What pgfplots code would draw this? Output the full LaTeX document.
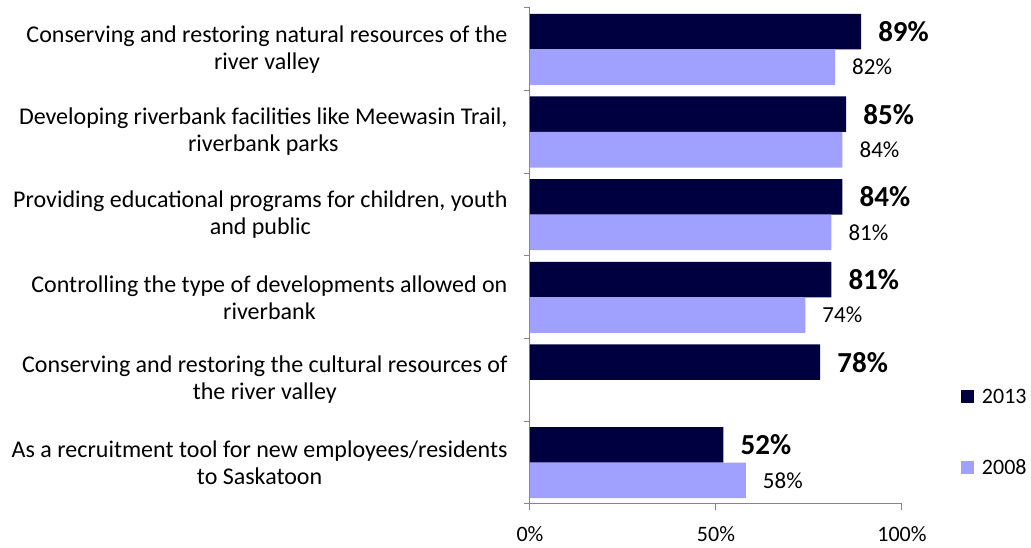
\documentclass[border=0pt]{standalone}
\usepackage{fontspec}
\setmainfont{Carlito}
\usepackage{pgfplots}
\pgfplotsset{compat=1.18}
\definecolor{navy}{RGB}{0,0,64}
\definecolor{lav}{RGB}{160,160,255}
\definecolor{axgray}{RGB}{134,134,134}
\begin{document}
\begin{tikzpicture}
\begin{axis}[
  scale only axis, width=372pt, height=496pt,
  xmin=0, xmax=100, ymin=-0.5, ymax=5.5,
  xbar, bar width=0.43,
  axis lines*=left,
  axis line style={axgray, line width=1pt},
  tick align=outside,
  major tick length=6pt,
  /pgf/number format/assume math mode=true,
  xtick={0,50,100},
  xticklabel={\pgfmathprintnumber{\tick}\%},
  x tick style={axgray, line width=1pt},
  x tick label style={font=\fontsize{22}{26}\selectfont, yshift=-13pt},
  ytick={0,1,2,3,4,5},
  yticklabels={
    {As a recruitment tool for new employees/residents\\to Saskatoon},
    {Conserving and restoring the cultural resources of\\the river valley},
    {Controlling the type of developments allowed on\\riverbank},
    {Providing educational programs for children, youth\\and public},
    {Developing riverbank facilities like Meewasin Trail,\\riverbank parks},
    {Conserving and restoring natural resources of the\\river valley}},
  y tick style={draw=none},
  y tick label style={align=center, font=\fontsize{24}{27}\selectfont, anchor=east, xshift=-13pt},
  extra y ticks={-0.5,0.5,1.5,2.5,3.5,4.5,5.5},
  extra y tick labels={},
  extra y tick style={y tick style={draw=axgray, line width=1pt}},
  point meta=x,
  legend style={at={(1.15,0.144)}, anchor=west, draw=none, fill=none,
    font=\fontsize{22}{26}\selectfont, row sep=51pt},
  legend cell align=left,
  legend image code/.code={\fill[#1] (0pt,-6.5pt) rectangle (13pt,6.5pt); \path (19pt,0pt);},
]
\addplot[fill=navy, draw=none, bar shift=0.215,
  nodes near coords={\pgfmathprintnumber{\pgfplotspointmeta}\%},
  nodes near coords style={font=\fontsize{29}{31}\selectfont\bfseries, anchor=west, inner sep=0pt, xshift=17pt, black}]
  coordinates {(89,5) (85,4) (84,3) (81,2) (78,1) (52,0)};
\addplot[fill=lav, draw=none, bar shift=-0.215,
  nodes near coords={\pgfmathprintnumber{\pgfplotspointmeta}\%},
  nodes near coords style={font=\fontsize{23}{26}\selectfont, anchor=west, inner sep=0pt, xshift=17pt, black}]
  coordinates {(82,5) (84,4) (81,3) (74,2) (58,0)};
\legend{2013,2008}
\coordinate (sw) at (rel axis cs:0,0);
\end{axis}
\pgfresetboundingbox
\path ([xshift=-530pt,yshift=-44pt]sw) rectangle ([xshift=501pt,yshift=504pt]sw);
\end{tikzpicture}
\end{document}
